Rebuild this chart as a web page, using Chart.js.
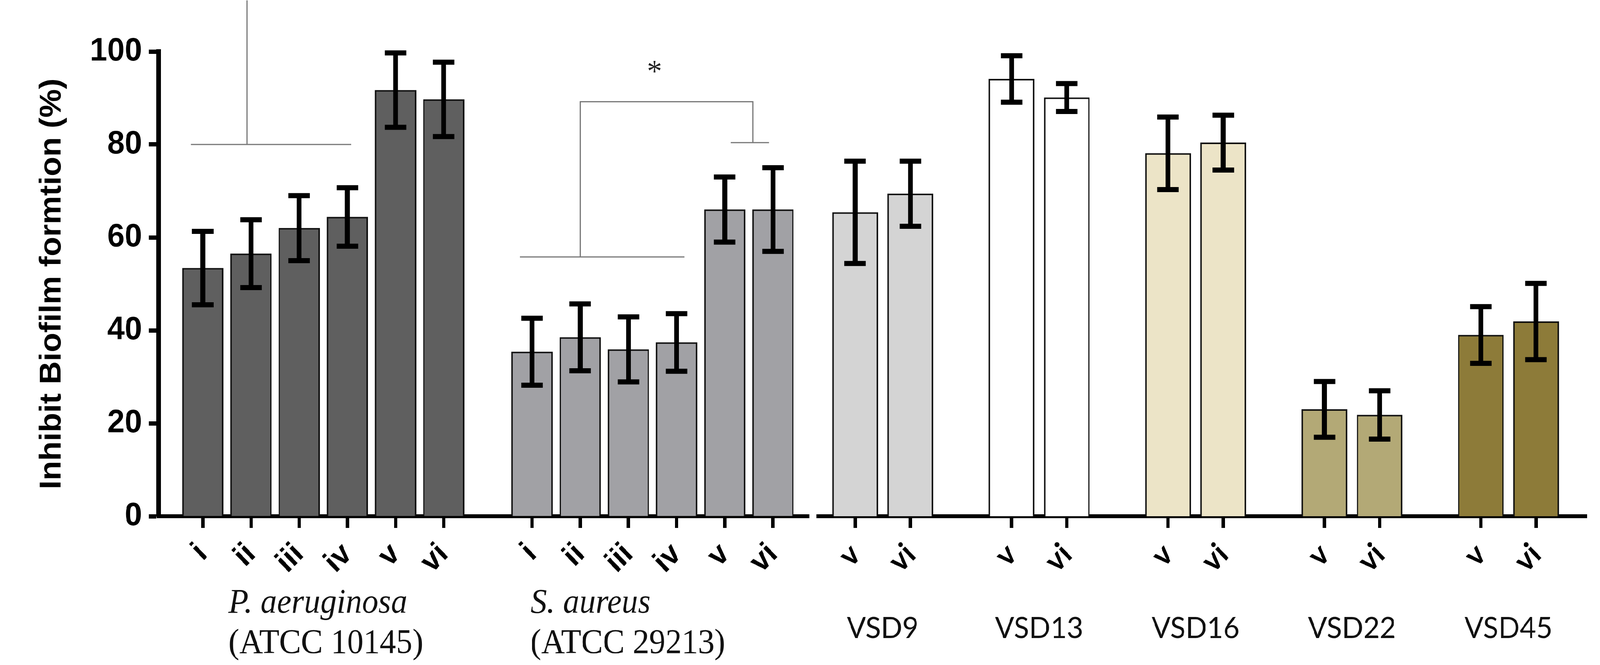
<!DOCTYPE html>
<html><head><meta charset="utf-8">
<script src="https://cdn.jsdelivr.net/npm/chart.js@4.4.1/dist/chart.umd.min.js"></script>
<style>
html,body{margin:0;padding:0;background:#fff;overflow:hidden;width:100vw;height:100vh;}
#wrap{position:absolute;left:0;top:0;width:4317px;height:1703px;overflow:hidden;background:#fff;transform-origin:0 0;}
#pa{position:absolute;left:0;top:0;width:2200px;height:1703px;}
#pb{position:absolute;left:2195px;top:0;width:2122px;height:1703px;}
</style></head><body>
<div id="wrap"><div id="pa"><canvas id="cA"></canvas></div><div id="pb"><canvas id="cB"></canvas></div></div>
<script>
// ---------------- data ----------------
const strainLabels = ['i', 'ii', 'iii', 'iv', 'v', 'vi'];
const paValues = [53.4, 56.5, 62.0, 64.4, 91.7, 89.7];
const paErrors = [7.9, 7.3, 7.0, 6.3, 8.0, 8.0];
const saValues = [35.4, 38.5, 35.9, 37.4, 66.0, 66.0];
const saErrors = [7.2, 7.2, 7.0, 6.2, 7.0, 9.0];
const vsdNames = ['VSD9', 'VSD13', 'VSD16', 'VSD22', 'VSD45'];
const vsdLabels = ['v', 'vi'];
const vValues = [65.4, 94.1, 78.1, 23.0, 39.0];
const vErrors = [11.0, 5.0, 7.8, 6.0, 6.1];
const viValues = [69.4, 90.1, 80.4, 21.8, 41.9];
const viErrors = [7.0, 3.0, 5.9, 5.2, 8.2];
const yMin = 0, yMax = 100, yStep = 20;
const yTitle = 'Inhibit Biofilm formtion (%)';
const refNames = [['P. aeruginosa', '(ATCC 10145)'], ['S. aureus', '(ATCC 29213)']];

// ---------------- layout / style ----------------
const W0 = 4317, H0 = 1703;
const SUB = 12, GAP = 22;            // lattice steps: bar pitch and group gap
const colA = ['#5f5f5f', '#a1a1a5'];
const colB = ['#d4d4d4', '#ffffff', '#ece4c7', '#b3a976', '#8d7b39'];
const sansB = "'Liberation Sans', Arial, sans-serif";
const serif = "'Liberation Serif', 'Times New Roman', serif";
const lato = "Lato, 'Open Sans', sans-serif";
// significance brackets on the reference panel (lattice index, value)
const sigLines = [
  [[8, 80], [48, 80]],
  [[22, 80], [22, 111]],
  [[90, 55.8], [131, 55.8]],
  [[105, 55.8], [105, 89.2], [148, 89.2], [148, 80.4]],
  [[142.5, 80.4], [152, 80.4]]
];
const sigMarks = [{x: 123.5, y: 95.3, text: '*'}];
const refNameX = [17.4, 92.6];

// fit the 4317x1703 drawing into the actual viewport
const wrap = document.getElementById('wrap');
const sx = window.innerWidth / W0, sy = window.innerHeight / H0;
wrap.style.transform = 'scale(' + sx + ',' + sy + ')';

function lattice(groups, lead, tail) {
  const pos = []; let k = lead;
  groups.forEach((g, gi) => {
    const p = [];
    g.forEach((_, j) => { p.push(k); if (j < g.length - 1) k += SUB; });
    pos.push(p);
    if (gi < groups.length - 1) k += GAP;
  });
  const labels = new Array(k + tail + 1).fill('');
  pos.forEach((p, gi) => p.forEach((ix, j) => { labels[ix] = groups[gi][j]; }));
  return {labels, pos};
}
function series(n, idxs, vals) {
  const a = new Array(n).fill(null);
  idxs.forEach((ix, j) => { a[ix] = vals[j]; });
  return a;
}

const errorBars = {
  id: 'errorBars',
  afterDatasetsDraw(chart) {
    const ctx = chart.ctx, ys = chart.scales.y;
    ctx.save();
    ctx.strokeStyle = '#000'; ctx.lineCap = 'butt'; ctx.lineWidth = 13;
    chart.data.datasets.forEach((ds, di) => {
      const meta = chart.getDatasetMeta(di);
      meta.data.forEach((el, i) => {
        const v = ds.data[i], e = ds.errors[i];
        if (v == null || e == null) return;
        const x = el.x, yt = ys.getPixelForValue(v + e), yb = ys.getPixelForValue(v - e);
        ctx.beginPath(); ctx.moveTo(x, yt); ctx.lineTo(x, yb); ctx.stroke();
        ctx.beginPath();
        ctx.moveTo(x - 29, yt); ctx.lineTo(x + 29, yt);
        ctx.moveTo(x - 29, yb); ctx.lineTo(x + 29, yb);
        ctx.stroke();
      });
    });
    ctx.restore();
  }
};

function xAxis(fontFamily, size) {
  const tc = c => (c.tick && c.tick.label) ? '#000' : 'rgba(0,0,0,0)';
  return {
    type: 'category', offset: false, z: 1,
    grid: {display: true, drawOnChartArea: false, drawTicks: true, offset: false,
           tickLength: 30, tickWidth: 9, color: tc, tickColor: tc},
    border: {display: true, color: '#000', width: 10},
    ticks: {autoSkip: false, maxRotation: 45, minRotation: 45, padding: 52, color: '#000',
            font: {family: fontFamily, weight: 'bold', size: size, lineHeight: 0.1}},
    afterFit: s => { s.height = 381; s.paddingLeft = 0; s.paddingRight = 0; }
  };
}

// ---------------- chart A: reference strains ----------------
const A = lattice([strainLabels, strainLabels], 11, 9);
const nA = A.labels.length;
const refLabels = {
  id: 'refLabels',
  afterDraw(chart) {
    const ctx = chart.ctx, xs = chart.scales.x, ys = chart.scales.y, b = chart.chartArea.bottom;
    ctx.save();
    ctx.strokeStyle = '#777'; ctx.lineWidth = 3;
    sigLines.forEach(line => {
      ctx.beginPath();
      line.forEach((p, i) => {
        const px = xs.getPixelForValue(p[0]), py = ys.getPixelForValue(p[1]);
        if (i === 0) ctx.moveTo(px, py); else ctx.lineTo(px, py);
      });
      ctx.stroke();
    });
    ctx.fillStyle = '#222'; ctx.textAlign = 'center'; ctx.textBaseline = 'middle';
    ctx.font = '80px ' + serif;
    sigMarks.forEach(m => ctx.fillText(m.text, xs.getPixelForValue(m.x), ys.getPixelForValue(m.y)));
    ctx.fillStyle = '#111'; ctx.textAlign = 'left'; ctx.textBaseline = 'alphabetic';
    refNames.forEach((nm, gi) => {
      const x = xs.getPixelForValue(refNameX[gi]);
      ctx.font = 'italic 88px ' + serif; ctx.fillText(nm[0], x, b + 247);
      ctx.font = '88px ' + serif; ctx.fillText(nm[1], x, b + 350);
    });
    ctx.restore();
  }
};
new Chart(document.getElementById('cA'), {
  type: 'bar',
  data: {
    labels: A.labels,
    datasets: [
      {label: 'P. aeruginosa', data: series(nA, A.pos[0], paValues), errors: series(nA, A.pos[0], paErrors), backgroundColor: colA[0]},
      {label: 'S. aureus', data: series(nA, A.pos[1], saValues), errors: series(nA, A.pos[1], saErrors), backgroundColor: colA[1]}
    ]
  },
  options: {
    responsive: true, maintainAspectRatio: false, animation: false,
    layout: {padding: {top: 132, right: 17, bottom: 0, left: 0}},
    datasets: {bar: {grouped: false, barThickness: 111, borderColor: '#111', borderWidth: 4}},
    plugins: {legend: {display: false}, tooltip: {enabled: false}},
    scales: {
      x: xAxis(sansB, 80),
      y: {
        min: yMin, max: yMax, z: 1,
        ticks: {stepSize: yStep, padding: 19, color: '#000', font: {family: sansB, weight: 'bold', size: 84}},
        grid: {drawOnChartArea: false, drawTicks: true, tickLength: 26, tickWidth: 11, tickColor: '#000'},
        border: {display: true, width: 12, color: '#000'},
        title: {display: true, text: yTitle, color: '#000', padding: {top: 91, bottom: 0},
                font: {family: sansB, weight: 'bold', size: 82}},
        afterFit: s => { s.width = 428; s.paddingTop = 0; s.paddingBottom = 0; }
      }
    }
  },
  plugins: [errorBars, refLabels]
});

// ---------------- chart B: VSD isolates ----------------
const B = lattice(vsdNames.map(() => vsdLabels), 8, 11);
const nB = B.labels.length;
const vsdNameLabels = {
  id: 'vsdNames',
  afterDraw(chart) {
    const ctx = chart.ctx, xs = chart.scales.x, b = chart.chartArea.bottom;
    ctx.save();
    ctx.fillStyle = '#111'; ctx.textAlign = 'center'; ctx.textBaseline = 'alphabetic';
    ctx.font = '76px ' + lato;
    vsdNames.forEach((nm, g) => {
      const p = B.pos[g];
      ctx.fillText(nm, (xs.getPixelForValue(p[0]) + xs.getPixelForValue(p[p.length - 1])) / 2, b + 312);
    });
    ctx.restore();
  }
};
new Chart(document.getElementById('cB'), {
  type: 'bar',
  data: {
    labels: B.labels,
    datasets: vsdNames.map((nm, g) => ({
      label: nm,
      data: series(nB, B.pos[g], [vValues[g], viValues[g]]),
      errors: series(nB, B.pos[g], [vErrors[g], viErrors[g]]),
      backgroundColor: colB[g]
    }))
  },
  options: {
    responsive: true, maintainAspectRatio: false, animation: false,
    layout: {padding: {top: 132, right: 36, bottom: 0, left: 13}},
    datasets: {bar: {grouped: false, barThickness: 123, borderColor: '#111', borderWidth: 4}},
    plugins: {legend: {display: false}, tooltip: {enabled: false}},
    scales: {
      x: xAxis(lato, 80),
      y: {min: yMin, max: yMax, display: false,
          afterFit: s => { s.paddingTop = 0; s.paddingBottom = 0; }}
    }
  },
  plugins: [errorBars, vsdNameLabels]
});
</script>
</body></html>
